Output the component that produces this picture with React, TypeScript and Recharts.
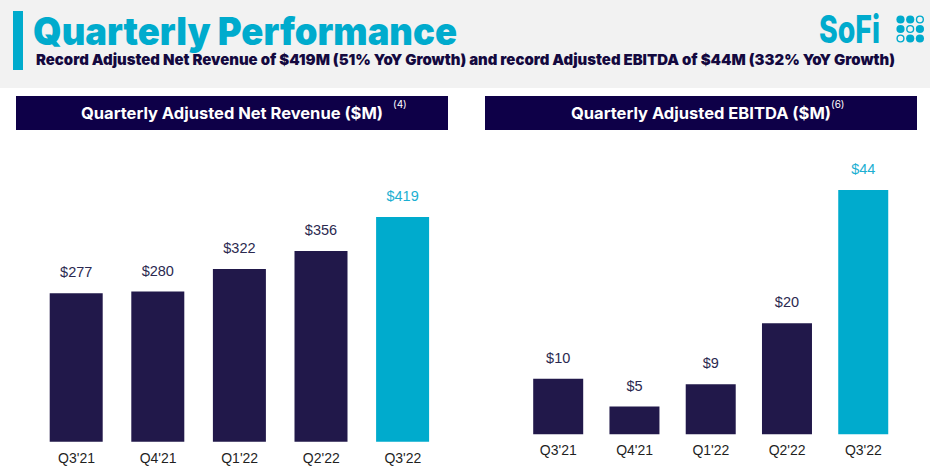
import { BarChart, Bar, XAxis, YAxis, Cell, LabelList } from "recharts";

const quarters = ["Q3'21", "Q4'21", "Q1'22", "Q2'22", "Q3'22"];
const revenue = [277, 280, 322, 356, 419];
const ebitda = [10, 5, 9, 20, 44];

const NAVY = "#21184a";
const CYAN = "#00abcd";
const BOX = "#0e0048";

const revenueData = quarters.map((q, i) => ({ q, v: revenue[i] }));
const ebitdaData = quarters.map((q, i) => ({ q, v: ebitda[i] }));

const lastIdx = quarters.length - 1;

const ValueLabel = (props: any) => {
  const { x, y, width, value, index } = props;
  return (
    <text
      x={x + width / 2}
      y={y - 16}
      textAnchor="middle"
      fontFamily="'Liberation Sans', Arial, sans-serif"
      fontSize={14.5}
      fill={index === lastIdx ? "#1cafd2" : "#2b2950"}
    >
      ${value}
    </text>
  );
};

// the 3x3 dot mark next to the wordmark: 1 = filled, 0 = ring
const dots = [
  [1, 1, 0],
  [1, 0, 1],
  [0, 1, 1],
];

function Header() {
  return (
    <svg width={930} height={135} style={{ position: "absolute", left: 0, top: 0 }}>
      <rect x={0} y={0} width={930} height={88} fill="#f2f2f2" />
      <rect x={13} y={11} width={10} height={59} fill={CYAN} />
      <text
        x={33}
        y={44.5}
        fontFamily="Inter, sans-serif"
        fontWeight={900}
        fontSize={38}
        fill={CYAN}
        textLength={424}
        lengthAdjust="spacingAndGlyphs"
      >
        Quarterly Performance
      </text>
      <text
        x={36}
        y={65}
        fontFamily="Inter, sans-serif"
        fontWeight={900}
        fontSize={15}
        fill="#14093f"
        textLength={859}
        lengthAdjust="spacingAndGlyphs"
      >
        Record Adjusted Net Revenue of $419M (51% YoY Growth) and record Adjusted EBITDA of $44M (332% YoY Growth)
      </text>
      <text
        x={819}
        y={43}
        fontFamily="Inter, sans-serif"
        fontWeight={800}
        fontSize={38}
        fill={CYAN}
        textLength={61}
        lengthAdjust="spacingAndGlyphs"
      >
        SoFi
      </text>
      {dots.map((row, r) =>
        row.map((f, c) => (
          <circle
            key={`${r}-${c}`}
            cx={900.5 + c * 9.7}
            cy={19.5 + r * 9.5}
            r={f ? 4.1 : 3.4}
            fill={f ? CYAN : "none"}
            stroke={CYAN}
            strokeWidth={f ? 0 : 1.4}
          />
        ))
      )}

      <rect x={16} y={96} width={432} height={34} fill={BOX} />
      <text
        x={81}
        y={119}
        fontFamily="Inter, sans-serif"
        fontWeight={700}
        fontSize={16}
        fill="#ffffff"
        textLength={302}
        lengthAdjust="spacingAndGlyphs"
      >
        Quarterly Adjusted Net Revenue ($M)
      </text>
      <text x={393} y={108} fontFamily="Inter, sans-serif" fontSize={10} fill="#ffffff">
        (4)
      </text>

      <rect x={485} y={96} width={432} height={34} fill={BOX} />
      <text
        x={571}
        y={119}
        fontFamily="Inter, sans-serif"
        fontWeight={700}
        fontSize={16}
        fill="#ffffff"
        textLength={260}
        lengthAdjust="spacingAndGlyphs"
      >
        Quarterly Adjusted EBITDA ($M)
      </text>
      <text x={831} y={108} fontFamily="Inter, sans-serif" fontSize={10} fill="#ffffff">
        (6)
      </text>
    </svg>
  );
}

const tickStyle = {
  fill: "#1f1f1f",
  fontSize: 14,
  fontFamily: "'Liberation Sans', Arial, sans-serif",
};

export default function App() {
  return (
    <div
      style={{
        position: "absolute",
        left: 0,
        top: 0,
        width: 930,
        height: 470,
        background: "#ffffff",
        overflow: "hidden",
      }}
    >
      <Header />

      <div style={{ position: "absolute", left: 0, top: 0 }}>
        <BarChart
          width={465}
          height={470}
          data={revenueData}
          margin={{ top: 173.7, right: 21.3, bottom: 0, left: 35.7 }}
        >
          <XAxis
            dataKey="q"
            axisLine={false}
            tickLine={false}
            tickMargin={5}
            height={28.3}
            interval={0}
            tick={tickStyle}
          />
          <YAxis hide domain={[0, 500]} />
          <Bar dataKey="v" barSize={53} isAnimationActive={false}>
            {revenueData.map((_, i) => (
              <Cell key={i} fill={i === lastIdx ? CYAN : NAVY} />
            ))}
            <LabelList dataKey="v" content={<ValueLabel />} />
          </Bar>
        </BarChart>
      </div>

      <div style={{ position: "absolute", left: 465, top: 0 }}>
        <BarChart
          width={465}
          height={470}
          data={ebitdaData}
          margin={{ top: 156.8, right: 28.5, bottom: 0, left: 55.2 }}
        >
          <XAxis
            dataKey="q"
            axisLine={false}
            tickLine={false}
            tickMargin={5}
            height={35.7}
            interval={0}
            tick={tickStyle}
          />
          <YAxis hide domain={[0, 50]} />
          <Bar dataKey="v" barSize={50} isAnimationActive={false}>
            {ebitdaData.map((_, i) => (
              <Cell key={i} fill={i === lastIdx ? CYAN : NAVY} />
            ))}
            <LabelList dataKey="v" content={<ValueLabel />} />
          </Bar>
        </BarChart>
      </div>
    </div>
  );
}
